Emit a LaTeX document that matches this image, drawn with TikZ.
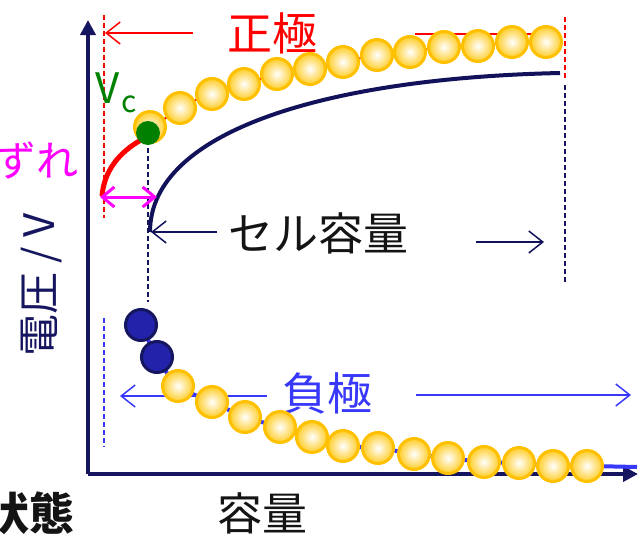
\documentclass[tikz,border=0pt]{standalone}
\usepackage{fontspec}
\newfontfamily\jp{Noto Sans CJK JP}
\usetikzlibrary{arrows.meta}
\definecolor{navy}{RGB}{22,22,96}
\definecolor{cellnavy}{RGB}{18,18,90}
\definecolor{posred}{RGB}{255,0,0}
\definecolor{shiftmag}{RGB}{255,0,255}
\definecolor{vcgreen}{RGB}{0,128,0}
\definecolor{negblue}{RGB}{56,56,250}
\definecolor{gold}{RGB}{255,192,0}
\definecolor{goldin}{RGB}{255,205,40}
\definecolor{ballblue}{RGB}{34,34,170}
\definecolor{txt}{RGB}{20,20,20}
\tikzset{
  goldball/.style={circle, inner sep=0pt, minimum size=31pt, line width=3pt, draw=gold, inner color=white, outer color=goldin},
  blueball/.style={circle, inner sep=0pt, minimum size=31pt, line width=3pt, draw=navy, fill=ballblue},
  axisline/.style={line width=4pt, draw=navy, -{Triangle[length=15pt,width=15pt]}},
  thinarrow/.style={line width=1.5pt, -{Straight Barb[length=14pt,width=22pt]}},
  dashline/.style={line width=1.5pt, dash pattern=on 5pt off 3pt},
  bigtext/.style={font=\jp\fontsize{45}{50}\selectfont, inner sep=0pt},
}
\begin{document}
\begin{tikzpicture}[x=1pt,y=-1pt]
\useasboundingbox (0,0) rectangle (638,536);
% coordinates
\coordinate (o) at (88,474);
\coordinate (ytop) at (88,20);
\coordinate (xend) at (638,474);
% dashed guides
\draw[dashline, posred] (104,15) coordinate (rd1) -- (104,218) coordinate (rd2);
\draw[dashline, posred] (565,17) coordinate (rd3) -- (565,80) coordinate (rd4);
\draw[dashline, navy] (565,85) coordinate (nd1) -- (565,282) coordinate (nd2);
\draw[dashline, navy] (148,140) coordinate (nd3) -- (148,302) coordinate (nd4);
\draw[dashline, negblue] (104,318) coordinate (bd1) -- (104,447) coordinate (bd2);
% axes
\draw[axisline] (o) -- (ytop);
\draw[axisline] (o) -- (xend);
% positive label and arrows
\node[bigtext, text=posred] (pos) at (272,33) {正極};
\coordinate (posl) at (193,33);
\coordinate (posltip) at (105,33);
\draw[thinarrow, posred] (posl) -- (posltip);
\draw[line width=1.5pt, posred] (415,34) coordinate (posr) -- (543,34) coordinate (posrend);
% positive curve (red, behind balls)
\draw[line width=2pt, posred] plot[smooth] coordinates {(148,133) (179,108) (212,94) (244,84) (278,74) (310,69) (343,62) (377,55) (410,52) (444,47) (478,46) (512,42) (546,42)};
% cell curve
\coordinate (c0) at (150,232);
\coordinate (c1) at (560,73);
\draw[line width=4pt, cellnavy] (c0) .. controls (150,130) and (330,78) .. (c1);
% cell capacity label and arrows
\node[bigtext, text=txt, anchor=west] (cell) at (228,233) {セル容量};
\draw[thinarrow, cellnavy] (217,232) coordinate (cl) -- (151,232) coordinate (cltip);
\draw[thinarrow, cellnavy] (476,242) coordinate (cr) -- (544,242) coordinate (crtip);
% negative curve
\draw[line width=4pt, negblue] plot[smooth] coordinates {(141,325) (157,357) (178,386) (212,402) (245,417) (280,427) (312,437) (343,446) (378,448) (414,454) (448,458) (484,462) (519,463) (553,466) (587,466) (637,467)};
% negative label and arrows
\node[bigtext, text=negblue] (neg) at (327,393) {負極};
\draw[thinarrow, negblue] (267,396) coordinate (nl) -- (120,396) coordinate (nltip);
\draw[thinarrow, negblue] (416,395) coordinate (nr) -- (631,395) coordinate (nrtip);
% positive balls
\foreach \i/\x/\y in {1/150/127,2/180/108,3/212/94,4/244/84,5/277/74,6/310/69,7/343/62,8/377/55,9/410/52,10/444/47,11/478/46,12/512/42,13/546/42}
  \node[goldball] (pb\i) at (\x,\y) {};
% negative balls
\node[blueball] (nb1) at (141,325) {};
\node[blueball] (nb2) at (157,357) {};
\foreach \i/\x/\y in {1/178/386,2/212/402,3/245/417,4/280/427,5/312/437,6/343/446,7/378/448,8/414/454,9/448/458,10/484/462,11/519/463,12/553/466,13/587/466}
  \node[goldball] (gb\i) at (\x,\y) {};
% red shift curve
\coordinate (rs0) at (141,140);
\coordinate (rs1) at (102,196);
\draw[line width=5pt, posred] (rs0) .. controls (118,153) and (104,172) .. (rs1);
% green dot
\node[circle, fill=vcgreen, inner sep=0pt, minimum size=24pt] (vc) at (148,133) {};
\node[font=\jp\fontsize{42}{46}\selectfont, text=vcgreen, inner sep=0pt] (vclab) at (108,88) {V};
\node[font=\jp\fontsize{30}{34}\selectfont, text=vcgreen, inner sep=0pt] (vcsub) at (129,104) {c};
% magenta double arrow
\coordinate (m0) at (100,197);
\coordinate (m1) at (157,197);
\draw[line width=3pt, shiftmag, {Straight Barb[length=12pt,width=20pt]}-{Straight Barb[length=12pt,width=20pt]}] (m0) -- (m1);
\node[font=\jp\fontsize{42}{46}\selectfont, text=shiftmag, inner sep=0pt, anchor=east] (shift) at (79,160) {ずれ};
% axis labels
\node[font=\jp\fontsize{42}{46}\selectfont, text=navy, inner sep=0pt, rotate=90] (ylab) at (42,285) {電圧 / V};
\node[bigtext, text=txt] (xlab) at (262,513) {容量};
\node[bigtext, text=txt, anchor=east, font=\jp\bfseries\fontsize{45}{50}\selectfont] (state) at (75,513) {状態};
\end{tikzpicture}
\end{document}
